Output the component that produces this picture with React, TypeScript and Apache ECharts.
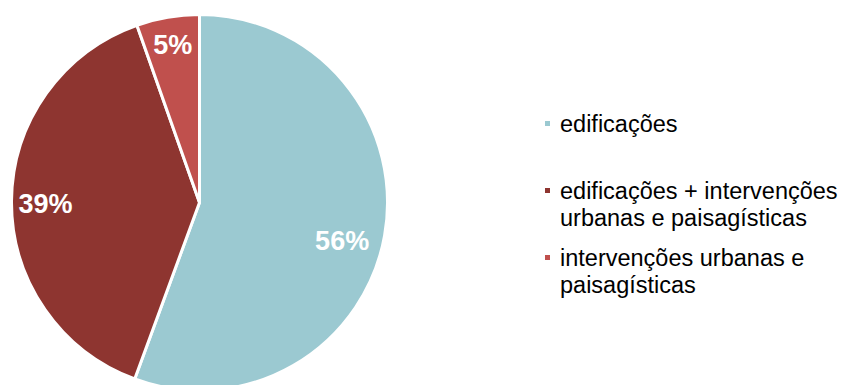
import React, { useEffect, useRef } from "react";
import * as echarts from "echarts";

const categories = [
  "edificações",
  "edificações + intervenções urbanas e paisagísticas",
  "intervenções urbanas e paisagísticas",
];
const legendLines = [
  "edificações",
  "\nedificações + intervenções\nurbanas e paisagísticas",
  "\nintervenções urbanas e\npaisagísticas",
];
const values = [55.6, 39.0, 5.4];
const colors = ["#9BC9D1", "#8E3530", "#C0504D"];

export default function App() {
  const ref = useRef<HTMLDivElement>(null);
  useEffect(() => {
    if (!ref.current) return;
    const chart = echarts.init(ref.current, null, { renderer: "svg" });
    const legendTops = [110, 150, 217];
    const labelOffsets: [number, number][] = [[-8, 12], [-1, 2], [-1, -7]];
    chart.setOption({
      animation: false,
      color: colors,
      legend: categories.map((name, i) => ({
        data: [name],
        left: 543,
        top: legendTops[i],
        orient: "vertical",
        padding: 0,
        itemWidth: 7,
        itemHeight: 7,
        icon: "rect",
        selectedMode: false,
        formatter: () => legendLines[i],
        textStyle: {
          fontFamily: "Liberation Sans",
          fontSize: 23.5,
          color: "#000",
          lineHeight: 27,
          padding: [0, 0, 0, 4],
        },
      })),
      series: [
        {
          type: "pie",
          radius: 188,
          center: [199.5, 202.5],
          startAngle: 90,
          silent: true,
          itemStyle: { borderColor: "#fff", borderWidth: 3 },
          label: { show: false },
          labelLine: { show: false },
          emphasis: { disabled: true },
          data: categories.map((name, i) => ({ name, value: values[i] })),
        },
        {
          type: "pie",
          radius: [112, 188],
          center: [199.5, 202.5],
          startAngle: 90,
          silent: true,
          percentPrecision: 0,
          itemStyle: { color: "transparent", borderWidth: 0 },
          labelLine: { show: false },
          emphasis: { disabled: true },
          label: {
            show: true,
            position: "inside",
            formatter: "{d}%",
            color: "#fff",
            fontFamily: "Liberation Sans",
            fontWeight: "bold",
            fontSize: 27,
          },
          data: categories.map((name, i) => ({
            name,
            value: values[i],
            label: { offset: labelOffsets[i] },
          })),
        },
      ],
    });
    return () => chart.dispose();
  }, []);
  return (
    <div
      ref={ref}
      style={{ position: "fixed", left: 0, top: 0, width: 844, height: 385, background: "#fff" }}
    />
  );
}
